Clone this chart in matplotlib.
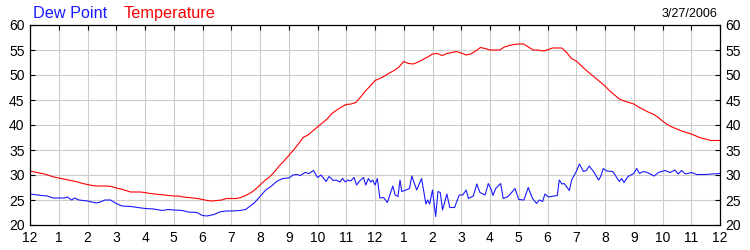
import numpy as np
import matplotlib
matplotlib.use('Agg')
from matplotlib import pyplot as plt

plt.rcParams['font.family'] = ['Liberation Sans', 'DejaVu Sans']

# temperature, one reading every 10 minutes from midnight to midnight
temp_values = [30.8, 30.6, 30.4, 30.2, 29.9, 29.6,
               29.4, 29.2, 29.0, 28.8, 28.6, 28.3,
               28.1, 27.9, 27.8, 27.8, 27.8, 27.7,
               27.4, 27.2, 26.9, 26.6, 26.6, 26.6,
               26.5, 26.3, 26.2, 26.1, 26.0, 25.9,
               25.8, 25.8, 25.6, 25.5, 25.4, 25.3,
               25.1, 24.9, 24.8, 24.9, 25.0, 25.3,
               25.3, 25.3, 25.5, 25.9, 26.4, 27.1,
               28.0, 28.9, 29.6, 30.6, 31.8, 32.8,
               33.9, 35.0, 36.2, 37.5, 38.0, 38.8,
               39.6, 40.4, 41.2, 42.3, 43.0, 43.6,
               44.1, 44.2, 44.5, 45.6, 46.8, 47.8,
               48.9, 49.3, 49.8, 50.4, 50.9, 51.6,
               52.7, 52.3, 52.2, 52.6, 53.1, 53.6,
               54.2, 54.3, 53.9, 54.3, 54.5, 54.7,
               54.4, 54.0, 54.2, 54.8, 55.5, 55.3,
               55.0, 55.0, 55.0, 55.6, 55.9, 56.1,
               56.2, 56.2, 55.6, 55.0, 55.0, 54.8,
               55.0, 55.4, 55.4, 55.4, 54.5, 53.3,
               52.8, 51.9, 51.0, 50.2, 49.4, 48.6,
               47.8, 46.8, 46.0, 45.2, 44.8, 44.5,
               44.2, 43.6, 43.1, 42.6, 42.2, 41.6,
               40.8, 40.1, 39.6, 39.2, 38.8, 38.5,
               38.2, 37.8, 37.4, 37.2, 36.9, 36.9,
               36.9]
temp_hours = np.linspace(0, 24, len(temp_values))

# dew point, read at the turning points of the trace
dew_hours = [0.0, 0.25, 0.4, 0.6, 0.8, 1.0, 1.2, 1.3, 1.45, 1.55, 1.7, 2.0,
             2.3, 2.45, 2.6, 2.8, 3.0, 3.2, 3.5, 4.0, 4.3, 4.6, 4.8, 5.0,
             5.3, 5.5, 5.8, 6.0, 6.15, 6.4, 6.6, 6.8, 7.0, 7.3, 7.5, 7.8,
             8.0, 8.2, 8.4, 8.6, 8.8, 9.0, 9.15, 9.28, 9.4, 9.57, 9.7, 9.86,
             10.0, 10.12, 10.3, 10.4, 10.55, 10.65, 10.78, 10.87, 10.97, 11.05, 11.15, 11.27,
             11.36, 11.48, 11.6, 11.68, 11.77, 11.85, 11.92, 12.0, 12.08, 12.17, 12.3, 12.43,
             12.62, 12.7, 12.8, 12.87, 12.93, 13.08, 13.2, 13.28, 13.45, 13.62, 13.77, 13.83,
             13.9, 14.0, 14.11, 14.19, 14.27, 14.35, 14.5, 14.6, 14.77, 14.83, 14.93, 15.05,
             15.17, 15.25, 15.42, 15.54, 15.65, 15.83, 15.94, 16.05, 16.1, 16.2, 16.37, 16.46,
             16.63, 16.87, 17.0, 17.18, 17.33, 17.48, 17.62, 17.72, 17.83, 17.91, 18.03, 18.34,
             18.41, 18.5, 18.58, 18.76, 18.84, 19.0, 19.11, 19.25, 19.35, 19.45, 19.6, 19.78,
             19.85, 19.94, 20.05, 20.27, 20.35, 20.5, 20.58, 20.66, 20.8, 21.0, 21.1, 21.2,
             21.33, 21.47, 21.71, 21.86, 22.09, 22.26, 22.43, 22.55, 22.66, 22.8, 23.01, 23.19,
             23.5, 23.72, 24.0]
dew_values = [26.2, 26.0, 25.9, 25.8, 25.4, 25.4, 25.4, 25.6, 25.0, 25.4, 25.0, 24.8,
              24.4, 24.6, 25.0, 25.0, 24.3, 23.8, 23.7, 23.3, 23.2, 22.9, 23.1, 23.0,
              22.9, 22.6, 22.5, 21.9, 21.8, 22.1, 22.6, 22.8, 22.8, 22.9, 23.1, 24.4,
              25.7, 27.0, 27.8, 28.8, 29.3, 29.4, 30.0, 30.1, 29.9, 30.5, 30.3, 30.9,
              29.5, 30.0, 28.7, 29.7, 28.9, 29.0, 28.6, 29.3, 28.6, 29.0, 28.8, 29.5,
              28.0, 28.9, 29.5, 28.0, 29.3, 28.6, 29.0, 28.0, 29.3, 25.4, 25.5, 24.5,
              27.8, 26.0, 25.7, 29.0, 26.7, 27.0, 27.3, 29.8, 27.0, 29.3, 24.2, 25.0,
              24.2, 27.0, 21.7, 26.7, 26.5, 23.0, 26.2, 23.5, 23.5, 24.5, 26.0, 26.0,
              27.0, 25.3, 25.8, 28.2, 26.5, 26.0, 28.3, 27.0, 25.9, 27.3, 28.3, 25.3,
              25.7, 27.3, 25.1, 25.0, 27.5, 25.3, 24.3, 25.0, 24.7, 26.2, 25.6, 25.9,
              29.0, 28.2, 28.3, 26.9, 29.0, 30.7, 32.2, 30.7, 30.9, 31.8, 30.7, 29.0,
              29.7, 31.3, 30.8, 30.7, 30.0, 28.7, 29.3, 28.5, 29.7, 30.3, 31.3, 30.3,
              30.7, 30.5, 29.8, 30.5, 30.9, 30.5, 31.0, 30.2, 30.9, 30.2, 30.5, 30.1,
              30.1, 30.2, 30.3]

hour_labels = ['12', '1', '2', '3', '4', '5', '6', '7', '8', '9', '10', '11',
               '12', '1', '2', '3', '4', '5', '6', '7', '8', '9', '10', '11', '12']
y_ticks = [20, 25, 30, 35, 40, 45, 50, 55, 60]

fig = plt.figure(figsize=(7.5, 2.5), dpi=100)
ax = fig.add_axes([0.04, 0.1, 0.92, 0.8])

ax.plot(temp_hours, temp_values, color='#ff0000', lw=0.8)
ax.plot(dew_hours, dew_values, color='#1a1aff', lw=0.8)

ax.set_xlim(0, 24)
ax.set_ylim(20, 60)
ax.set_xticks(range(25))
ax.set_xticklabels(hour_labels)
ax.set_yticks(y_ticks)
ax.grid(True, color='#cccccc', lw=0.8)
ax.set_axisbelow(True)

ax.tick_params(axis='x', direction='in', top=True, bottom=False, length=3.5,
               width=0.8, pad=4, labelsize=10)
ax.tick_params(axis='y', direction='in', left=True, right=True, labelright=True,
               length=3.5, width=0.8, pad=4, labelsize=10)
for s in ax.spines.values():
    s.set_color('black')
    s.set_linewidth(0.9)

fig.text(0.0444, 0.927, 'Dew Point', color='#1a1aff', fontsize=11.7, va='baseline')
fig.text(0.1653, 0.927, 'Temperature', color='#ff0000', fontsize=11.7, va='baseline')
fig.text(0.957, 0.931, '3/27/2006', color='black', fontsize=9, ha='right', va='baseline')

fig.savefig('out.png', dpi=100)
